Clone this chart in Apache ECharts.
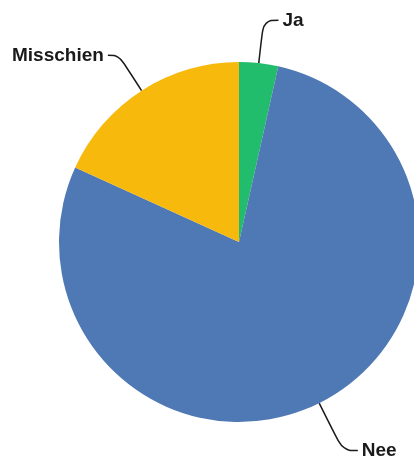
<!DOCTYPE html>
<html>
<head>
<meta charset="utf-8">
<script src="https://cdn.jsdelivr.net/npm/echarts@6/dist/echarts.min.js"></script>
<style>
  html, body { margin: 0; padding: 0; background: #fff; }
  #chart { width: 414px; height: 457px; }
</style>
</head>
<body>
<div id="chart"></div>
<script>
const categories = ['Ja', 'Nee', 'Misschien']
const values = [3.5, 78.3, 18.2]
const colors = ['#22BD6C', '#4F79B5', '#F6B90C']
// leader line lengths per slice [radial, horizontal]
const leaderLines = [[43, 15], [53, 15], [42, 11]]

const chart = echarts.init(document.getElementById('chart'))

const pieData = categories.map((name, i) => ({
  name,
  value: values[i],
  itemStyle: { color: colors[i] },
  labelLine: { length: leaderLines[i][0], length2: leaderLines[i][1] }
}))

chart.setOption({
  animation: false,
  series: [{
    type: 'pie',
    center: [239, 242],
    radius: 180,
    startAngle: 90,
    clockwise: true,
    avoidLabelOverlap: false,
    itemStyle: { borderWidth: 0 },
    label: {
      show: true,
      position: 'outside',
      formatter: '{b}',
      fontFamily: 'Liberation Sans',
      fontWeight: 'bold',
      fontSize: 19,
      color: '#1a1a1a',
      distanceToLabelLine: 4
    },
    labelLine: {
      show: true,
      smooth: 0.4,
      lineStyle: { color: '#1a1a1a', width: 1.5 }
    },
    emphasis: { disabled: true },
    data: pieData
  }]
})
</script>
</body>
</html>
